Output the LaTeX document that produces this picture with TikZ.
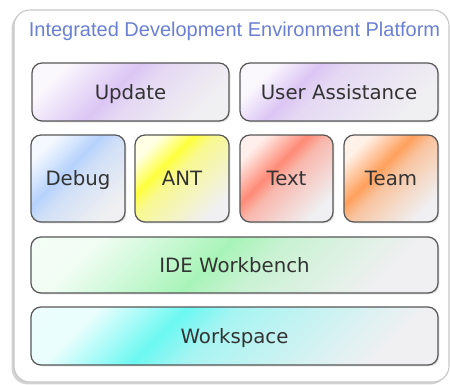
\documentclass[tikz,border=0pt]{standalone}
\usepackage{fontspec}
\setmainfont{DejaVu Sans}
\newfontfamily\titlefont{Liberation Sans}
\usetikzlibrary{shadows,calc}
\definecolor{txt}{HTML}{333333}
\definecolor{titleblue}{HTML}{6B80D2}
\definecolor{endgrey}{HTML}{F0F0F2}
\definecolor{cUpd}{HTML}{DCC6F4}
\definecolor{cDbg}{HTML}{B6D2FC}
\definecolor{cAnt}{HTML}{FFFF40}
\definecolor{cTxt}{HTML}{FF8A76}
\definecolor{cTeam}{HTML}{FFA05C}
\definecolor{cIde}{HTML}{A8F4B8}
\definecolor{cWs}{HTML}{6CF8F2}
\newcommand{\mkshade}[3]{%
  \pgfmathsetmacro{\mkpost}{#3+4}%
  \edef\mkdo{\noexpand\pgfdeclarehorizontalshading{#1}{100bp}{color(0bp)=(white); color(37.5bp)=(#2!15!white); color(#3bp)=(#2); color(\mkpost bp)=(#2!55!endgrey); color(62.5bp)=(endgrey); color(100bp)=(endgrey)}}%
  \mkdo}
\mkshade{shUpd}{cUpd}{47.5}
\mkshade{shUa}{cUpd}{43.5}
\mkshade{shDbg}{cDbg}{46.25}
\mkshade{shAnt}{cAnt}{44}
\mkshade{shTxt}{cTxt}{45.75}
\mkshade{shTeam}{cTeam}{46}
\mkshade{shIde}{cIde}{48}
\mkshade{shWs}{cWs}{44.25}
\tikzset{
  blk/.style={draw=black!66, line width=0.9pt, rounded corners=7.5pt, text=txt,
    font=\fontsize{14.8}{16}\selectfont, inner sep=0pt, fill=white,
    text height=10.8pt, text depth=0pt,
    drop shadow={shadow xshift=1pt, shadow yshift=-1pt, opacity=0.25},
    path picture={\shade[shading=#1, shading angle=-45]
      let \p1=(path picture bounding box.south west),
          \p2=(path picture bounding box.north east),
          \n1={((\x2-\x1)+(\y2-\y1))/2} in
      ([shift={(-\n1,-\n1)}]path picture bounding box.center) rectangle
      ([shift={(\n1,\n1)}]path picture bounding box.center);}},
  outer/.style={draw=black!22, line width=0.8pt, rounded corners=12pt, fill=white,
    drop shadow={shadow xshift=-1.8pt, shadow yshift=-1.8pt, opacity=0.35}}
}
\begin{document}
\begin{tikzpicture}[x=0.75pt,y=-0.75pt]
\useasboundingbox (0,0) rectangle (450,385);
\node[outer, minimum width=326.25pt, minimum height=279pt] (frame) at (231.5,196) {};
\node[text=titleblue, font=\titlefont\fontsize{15}{16}\selectfont, inner sep=0pt] (title) at (234.5,31) {Integrated Development Environment Platform};
\node[blk=shUpd, minimum width=147.75pt, minimum height=43.5pt] (upd) at (130.5,92) {Update};
\node[blk=shUa, minimum width=148.5pt, minimum height=43.5pt] (ua) at (339,92) {User Assistance};
\node[blk=shDbg, minimum width=70.5pt, minimum height=65.25pt] (dbg) at (78,178.5) {Debug};
\node[blk=shAnt, minimum width=70.5pt, minimum height=65.25pt] (ant) at (182,178.5) {ANT};
\node[blk=shTxt, minimum width=69.75pt, minimum height=65.25pt] (text) at (286.5,178.5) {Text};
\node[blk=shTeam, minimum width=70.5pt, minimum height=65.25pt] (team) at (391,178.5) {Team};
\node[blk=shIde, minimum width=305.25pt, minimum height=42pt] (ide) at (234.5,265) {IDE Workbench};
\node[blk=shWs, minimum width=305.25pt, minimum height=43.5pt] (ws) at (234.5,336) {Workspace};
\end{tikzpicture}
\end{document}
